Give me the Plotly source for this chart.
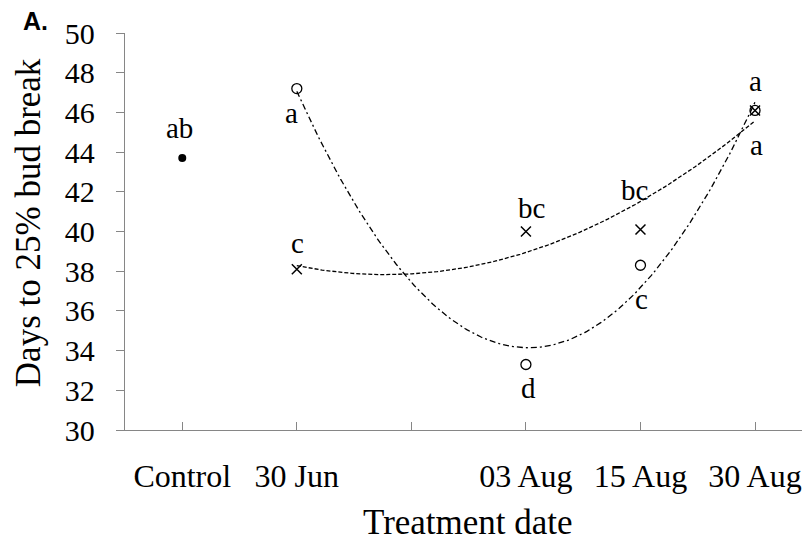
import numpy as np
import plotly.graph_objects as go

# ---- data ----
categories = ["Control", "30 Jun", "", "03 Aug", "15 Aug", "30 Aug"]
control_cat = "Control"
control_value = 43.7
treat_cats = ["30 Jun", "03 Aug", "15 Aug", "30 Aug"]
cross_values = [38.1, 40.0, 40.1, 46.1]
circle_values = [47.2, 33.3, 38.3, 46.1]

# significance letters (text, category, y position)
letter_text = ["ab", "a", "c", "bc", "d", "bc", "c", "a", "a"]
letter_cat = ["Control", "30 Jun", "30 Jun", "03 Aug", "03 Aug", "15 Aug", "15 Aug", "30 Aug", "30 Aug"]
letter_dx = [-0.02, -0.05, 0.01, 0.05, 0.02, -0.05, 0.01, 0.0, 0.01]
letter_y = [45.2, 45.95, 39.4, 41.2, 32.1, 42.1, 36.6, 47.6, 44.35]

y_ticks = list(range(30, 51, 2))

pos = {c: i for i, c in enumerate(categories)}
tx = np.array([pos[c] for c in treat_cats], dtype=float)

# polynomial (order 2) trend lines as in the original
xs = np.linspace(tx.min(), tx.max(), 200)
cross_fit = np.polyval(np.polyfit(tx, cross_values, 2), xs)
circle_fit = np.polyval(np.polyfit(tx, circle_values, 2), xs)

serif = "Liberation Serif, Times New Roman, serif"
grey = "#868686"

fig = go.Figure()
fig.add_trace(go.Scatter(x=xs, y=cross_fit, mode="lines",
                         line=dict(color="black", width=1.3, dash="4px,2px"),
                         hoverinfo="skip", showlegend=False))
fig.add_trace(go.Scatter(x=xs, y=circle_fit, mode="lines",
                         line=dict(color="black", width=1.3, dash="6px,3px,2px,3px"),
                         hoverinfo="skip", showlegend=False))
fig.add_trace(go.Scatter(x=tx, y=cross_values, mode="markers",
                         marker=dict(symbol="x-thin-open", size=10, color="black",
                                     line=dict(color="black", width=1.5)),
                         showlegend=False))
fig.add_trace(go.Scatter(x=tx, y=circle_values, mode="markers",
                         marker=dict(symbol="circle-open", size=10, color="black",
                                     line=dict(color="black", width=1.3)),
                         showlegend=False))
fig.add_trace(go.Scatter(x=[pos[control_cat]], y=[control_value], mode="markers",
                         marker=dict(symbol="circle", size=8, color="black"),
                         showlegend=False))

annotations = []
for t, c, dx, y in zip(letter_text, letter_cat, letter_dx, letter_y):
    annotations.append(dict(x=pos[c] + dx, y=y, xref="x", yref="y", text=t,
                            showarrow=False, xanchor="center", yanchor="middle",
                            font=dict(family=serif, size=29, color="black")))

annotations.append(dict(x=-0.141, y=0.522, xref="paper", yref="paper",
                        text="Days to 25% bud break", textangle=-90, showarrow=False,
                        xanchor="center", yanchor="middle",
                        font=dict(family=serif, size=35, color="black")))
annotations.append(dict(x=0.5, y=-0.234, xref="paper", yref="paper",
                        text="Treatment date", showarrow=False,
                        xanchor="center", yanchor="middle",
                        font=dict(family=serif, size=35, color="black")))
annotations.append(dict(x=-0.131, y=1.03, xref="paper", yref="paper",
                        text="<b>A.</b>", showarrow=False,
                        xanchor="center", yanchor="middle",
                        font=dict(family="Liberation Sans, Arial, sans-serif", size=25, color="black")))

fig.update_layout(
    width=810, height=552,
    margin=dict(l=117, r=8, t=21, b=130),
    plot_bgcolor="white", paper_bgcolor="white",
    annotations=annotations,
    xaxis=dict(range=[-0.5, 5.48], tickmode="array",
               tickvals=list(range(len(categories))), ticktext=categories,
               ticks="inside", ticklen=8, tickcolor=grey, tickwidth=1,
               showline=True, linecolor=grey, linewidth=1.3,
               showgrid=False, zeroline=False,
               tickfont=dict(family=serif, size=32, color="black"),
               ticklabelstandoff=17),
    yaxis=dict(range=[30, 50], tickmode="array", tickvals=y_ticks,
               ticks="outside", ticklen=8, tickcolor=grey, tickwidth=1,
               showline=True, linecolor=grey, linewidth=1.3,
               showgrid=False, zeroline=False,
               tickfont=dict(family=serif, size=30, color="black"),
               ticklabelstandoff=15),
)

fig.write_html("out.html")
